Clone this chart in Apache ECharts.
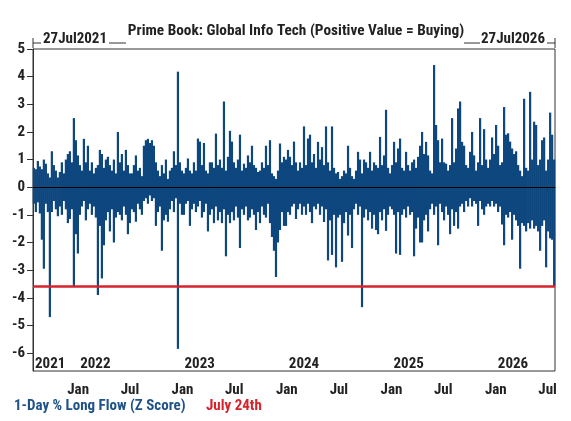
<!DOCTYPE html>
<html lang="en">
<head>
<meta charset="UTF-8">
<title>Prime Book: Global Info Tech</title>
<script src="https://cdn.jsdelivr.net/npm/echarts@6/dist/echarts.min.js"></script>
<style>
    html, body { margin: 0; padding: 0; background: #fff; }
    #chart { width: 571px; height: 421px; }
</style>
</head>
<body>
<div id="chart"></div>
<script>
    // one bar pair per week: the biggest buying day and the biggest selling day
    var firstWeek = [2021, 6, 30];          // Fri 30 Jul 2021, then every 7 days
    var rangeStart = [2021, 6, 27];
    var rangeEnd = [2026, 6, 27];

    var hi2021 = [0.7, 0.65, 0.95, 0.75, 0.65, 1.0, 0.85, 0.5, 0.35, 1.3, 0.8, 0.6, 0.35, 0.55, 0.9, 0.5,
        1.0, 1.2, 1.3, 0.9, 2.5, 1.7, 1.15];
    var lo2021 = [-0.6, -0.9, -0.55, -0.95, -1.9, -2.95, -0.6, -0.9, -4.7, -0.9, -0.5, -0.8, -1.05, -0.7, -1.0, -0.5,
        -0.8, -1.3, -1.15, -0.8, -3.6, -1.7, -2.4];

    var hi2022 = [0.8, 0.6, 1.75, 0.9, 1.5, 0.6, 0.9, 0.5, 0.7, 0.8, 1.35, 1.2, 0.7, 1.0, 1.1, 0.8, 0.6, 1.0, 0.5,
        2.0, 0.9, 1.2, 0.6, 1.35, 0.8, 0.5, 0.5, 0.8, 1.15, 0.6, 0.7, 0.4, 1.5, 1.7, 1.75, 1.6, 1.7, 1.5, 0.9, 0.6,
        0.4, 0.8, 0.5, 1.0, 0.3, 0.6, 0.7, 1.3, 0.8, 4.18, 0.9, 0.6];
    var lo2022 = [-1.0, -0.7, -0.5, -1.2, -0.8, -0.6, -1.0, -0.7, -1.1, -3.9, -1.4, -3.3, -2.1, -1.2, -0.9, -1.6,
        -0.8, -2.0, -1.1, -0.9, -1.0, -1.2, -0.7, -1.0, -1.7, -1.3, -0.8, -0.9, -1.25, -0.6, -0.8, -1.0, -0.5, -0.4,
        -0.6, -0.3, -0.5, -0.4, -1.4, -0.9, -0.7, -2.3, -1.2, -1.0, -1.25, -0.8, -0.5, -0.9, -0.4, -5.85, -0.6, -1.0];

    var hi2023 = [0.5, 0.7, 1.04, 0.6, 0.5, 0.9, 0.6, 1.76, 1.65, 0.8, 1.6, 0.6, 0.5, 0.9, 0.9, 0.7, 1.94, 0.8,
        1.0, 0.7, 3.1, 0.6, 1.1, 2.04, 1.65, 0.9, 0.7, 1.0, 1.9, 0.6, 0.85, 0.7, 1.15, 0.9, 1.5, 0.8, 0.7, 0.55,
        0.6, 0.9, 0.7, 1.5, 0.8, 1.7, 0.5, 0.4, 0.3, 0.6, 1.58, 0.9, 1.1, 1.0];
    var lo2023 = [-1.0, -0.6, -0.5, -1.4, -0.8, -0.6, -0.9, -0.7, -0.5, -1.1, -0.9, -0.6, -1.6, -1.0, -0.8, -1.3,
        -0.7, -1.2, -0.9, -1.3, -0.8, -2.5, -1.0, -1.3, -0.9, -1.2, -0.7, -1.1, -2.2, -0.8, -1.0, -0.7, -1.2, -1.1,
        -0.8, -1.0, -1.55, -0.9, -1.3, -0.7, -1.0, -1.1, -0.6, -1.3, -1.8, -2.3, -3.25, -2.0, -1.55, -0.9, -1.4, -1.4];

    var hi2024 = [1.35, 1.1, 0.8, 1.65, 0.9, 0.6, 0.9, 0.7, 2.2, 0.8, 1.76, 1.9, 0.9, 1.2, 0.7, 1.64, 1.0, 1.45,
        0.8, 2.2, 0.9, 0.6, 2.2, 0.7, 0.5, 0.55, 0.3, 0.4, 0.6, 0.5, 1.5, 0.7, 0.4, 0.3, 0.6, 1.28, 1.0, 0.5, 1.0,
        0.9, 0.7, 1.28, 0.6, 0.9, 0.8, 0.7, 1.82, 0.8, 1.15, 2.8, 0.7, 0.5];
    var lo2024 = [-0.9, -1.0, -0.7, -0.6, -1.15, -0.8, -0.6, -1.0, -0.7, -1.0, -0.6, -0.9, -1.3, -0.7, -0.8, -0.6,
        -1.0, -0.7, -1.26, -0.8, -2.65, -1.2, -2.45, -1.0, -2.9, -1.1, -1.0, -2.7, -1.3, -0.9, -1.75, -1.0, -2.2,
        -0.8, -0.6, -1.0, -0.7, -4.34, -1.1, -0.8, -1.2, -0.9, -1.5, -1.0, -1.55, -1.7, -0.9, -1.2, -0.8, -1.58,
        -1.0, -0.7];

    var hi2025 = [0.8, 1.64, 0.9, 1.4, 1.76, 0.7, 0.6, 1.28, 0.8, 0.6, 0.9, 1.0, 0.7, 1.1, 1.5, 2.0, 1.2, 1.64,
        1.15, 0.6, 0.5, 4.42, 2.25, 1.7, 0.9, 1.76, 0.9, 0.85, 0.6, 0.8, 2.5, 0.9, 1.4, 2.85, 3.1, 1.64, 1.5, 0.8,
        0.7, 1.28, 2.0, 1.15, 0.6, 0.9, 2.5, 0.8, 2.1, 1.0, 0.7, 1.0, 1.8, 1.2];
    var lo2025 = [-0.8, -1.0, -2.4, -0.9, -2.45, -1.0, -0.8, -1.1, -0.7, -1.0, -0.9, -2.5, -1.5, -1.1, -2.0, -2.0,
        -1.2, -1.0, -1.6, -0.8, -0.6, -1.0, -0.7, -2.1, -0.6, -0.9, -1.2, -0.7, -1.0, -1.7, -0.8, -1.4, -0.9, -1.5,
        -0.7, -0.6, -0.9, -0.5, -0.7, -0.4, -0.7, -0.5, -0.6, -1.4, -0.5, -0.8, -1.0, -0.7, -0.6, -0.7, -0.5, -0.7];

    var hi2026 = [2.25, 1.5, 0.8, 0.9, 2.9, 1.9, 1.95, 1.65, 1.4, 1.2, 1.3, 0.8, 0.6, 0.4, 3.2, 0.7, 0.6, 3.45,
        1.0, 2.37, 2.25, 0.8, 1.0, 1.7, 1.8, 0.6, 1.0, 2.7, 1.9, 1.0];
    var lo2026 = [-0.6, -0.9, -0.7, -1.35, -2.1, -1.0, -1.1, -0.9, -1.9, -1.0, -1.2, -1.4, -2.95, -1.3, -1.4, -1.6,
        -1.3, -1.5, -1.2, -1.5, -1.4, -1.6, -2.3, -1.4, -1.2, -2.9, -1.6, -1.85, -1.9, -3.6];

    var yTicks = [-6, -5, -4, -3, -2, -1, 0, 1, 2, 3, 4, 5];
    var monthTicks = ['2022-01', '2022-07', '2023-01', '2023-07', '2024-01', '2024-07', '2025-01', '2025-07', '2026-01', '2026-07'];
    var yearMarks = ['2021-07', '2022-01', '2023-01', '2024-01', '2025-01', '2026-01'];

    var BLUE = '#0e467e';
    var RED = '#d8232c';
    var INK = '#222';
    var FONT = '"Roboto Condensed", "Liberation Sans Narrow", "DejaVu Sans Condensed", sans-serif';

    var hi = [].concat(hi2021, hi2022, hi2023, hi2024, hi2025, hi2026);
    var lo = [].concat(lo2021, lo2022, lo2023, lo2024, lo2025, lo2026);
    var latest = lo[lo.length - 1];

    function weekDate(i) {
        return new Date(firstWeek[0], firstWeek[1], firstWeek[2] + 7 * i).getTime();
    }
    function monthStamp(s) {
        var p = s.split('-');
        return new Date(+p[0], +p[1] - 1, 1).getTime();
    }
    var tMin = new Date(rangeStart[0], rangeStart[1], rangeStart[2]).getTime();
    var tMax = new Date(rangeEnd[0], rangeEnd[1], rangeEnd[2]).getTime();

    var hiData = hi.map(function (v, i) { return [weekDate(i), v]; });
    var loData = lo.map(function (v, i) { return [weekDate(i), v]; });
    var monthValues = monthTicks.map(monthStamp);
    var yearValues = yearMarks.map(monthStamp);
    yearValues[0] = tMin;

    function label(x, y, text, size, color, align) {
        return {
            type: 'text', x: x, y: y,
            style: { text: text, font: 'bold ' + size + 'px ' + FONT, fill: color, align: align, verticalAlign: 'middle' }
        };
    }
    function rule(x1, y1, x2, y2) {
        return { type: 'line', shape: { x1: x1, y1: y1, x2: x2, y2: y2 }, style: { stroke: '#333', lineWidth: 1 } };
    }

    var labelFont = { fontFamily: FONT, fontSize: 15, fontWeight: 'bold', color: INK };

    var myChart = echarts.init(document.getElementById('chart'));
    var option = {
        backgroundColor: '#fff',
        animation: false,
        textStyle: { fontFamily: FONT },
        grid: {
            left: 33, right: 16, top: 49, bottom: 50,
            show: true, borderColor: '#333', borderWidth: 1, backgroundColor: 'transparent'
        },
        // dates are plotted as timestamps on value axes so the ticks can sit on Jan / Jul exactly
        xAxis: [{
            type: 'value',
            min: tMin,
            max: tMax,
            axisLine: { lineStyle: { color: '#333', width: 1 } },
            axisTick: { customValues: monthValues, length: 5, lineStyle: { color: '#333' } },
            axisLabel: Object.assign({
                customValues: monthValues,
                margin: 12,
                formatter: function (v) { return new Date(v).getMonth() === 0 ? 'Jan' : 'Jul'; }
            }, labelFont),
            splitLine: { show: false }
        }, {
            type: 'value',
            min: tMin,
            max: tMax,
            position: 'bottom',
            axisLine: { show: false },
            axisTick: { show: false },
            axisLabel: Object.assign({
                customValues: yearValues,
                inside: true,
                margin: -1,
                align: 'left',
                padding: [0, 0, 0, 2],
                formatter: function (v) { return String(new Date(v).getFullYear()); }
            }, labelFont),
            splitLine: { show: false }
        }],
        yAxis: {
            type: 'value',
            min: -6.65,
            max: 5,
            axisLine: { show: true, lineStyle: { color: '#333', width: 1 } },
            axisTick: { show: true, customValues: yTicks, length: 6, lineStyle: { color: '#333' } },
            axisLabel: Object.assign({ customValues: yTicks, margin: 8 }, labelFont),
            splitLine: { show: false }
        },
        series: [{
            name: '1-Day % Long Flow (Z Score)',
            type: 'bar',
            xAxisIndex: 0,
            barWidth: 2.2,
            barGap: '-100%',
            itemStyle: { color: BLUE },
            data: hiData
        }, {
            name: '1-Day % Long Flow (Z Score)',
            type: 'bar',
            xAxisIndex: 0,
            barWidth: 2.2,
            barGap: '-100%',
            itemStyle: { color: BLUE },
            data: loData,
            markLine: {
                silent: true,
                symbol: 'none',
                label: { show: false },
                data: [
                    { yAxis: 0, lineStyle: { color: '#000', width: 1.2, type: 'solid' } },
                    { yAxis: latest, lineStyle: { color: RED, width: 2.5, type: 'solid' } }
                ]
            }
        }],
        graphic: [
            label(296, 31, 'Prime Book: Global Info Tech (Positive Value = Buying)', 15.3, INK, 'center'),
            // date range bracket above the frame
            rule(33, 43, 41, 43),
            rule(33, 38, 33, 48),
            label(43, 39, '27Jul2021', 15, INK, 'left'),
            rule(109, 43, 126, 43),
            rule(464, 43, 480, 43),
            label(481, 39, '27Jul2026', 15, INK, 'left'),
            rule(547, 43, 555, 43),
            rule(555, 38, 555, 48),
            // legend
            label(14, 406, '1-Day % Long Flow (Z Score)', 15, '#1f5288', 'left'),
            label(206, 406, 'July 24th', 15, RED, 'left')
        ]
    };
    myChart.setOption(option);
</script>
</body>
</html>
